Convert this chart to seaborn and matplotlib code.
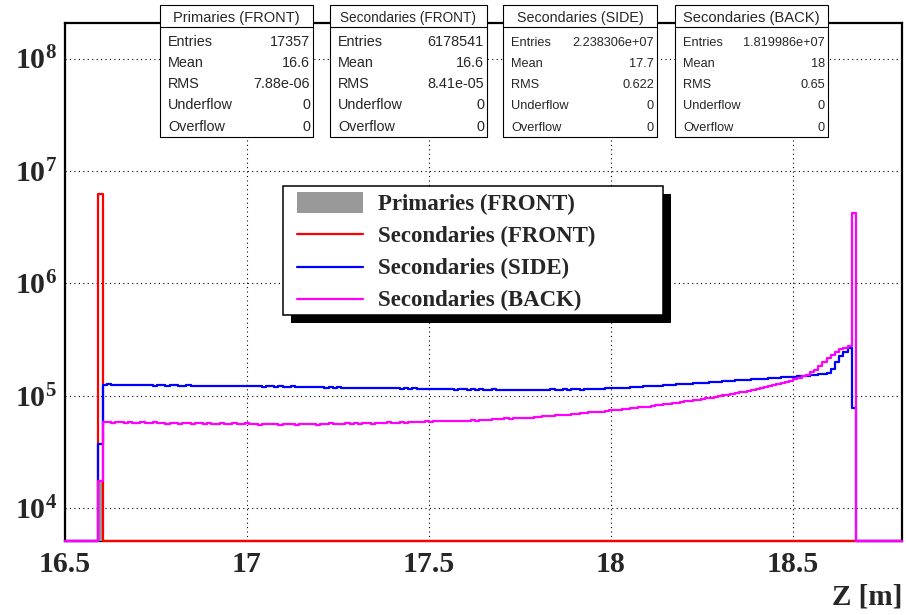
import numpy as np
import pandas as pd
import matplotlib
matplotlib.use('Agg')
from matplotlib import pyplot as plt
from matplotlib.patches import Rectangle
from matplotlib.lines import Line2D
from matplotlib.ticker import MultipleLocator, LogLocator, NullFormatter
from matplotlib.transforms import Affine2D
import seaborn as sns

# histogram binning along Z (metres)
Z_MIN = 16.5
Z_MAX = 18.8
N_BINS = 200

# bins holding the front face and the back face
FRONT_BIN = 8
BACK_BIN = 188

# single-bin contents
primaries_front = 17357
secondaries_front = 6178541
side_at_front, side_at_back = 37000, 78000
back_at_front, back_at_back = 17500, 4240000

# Secondaries (SIDE), bins 9..187, thousands of entries
side_plateau_k = [
    125, 126, 124, 125, 125, 124, 125, 124, 124, 125,
    124, 125, 123, 124, 124, 123, 124, 124, 123, 123,
    124, 123, 122, 123, 123, 122, 123, 122, 122, 123,
    122, 121, 122, 122, 121, 121, 122, 121, 120, 121,
    121, 120, 121, 120, 120, 121, 119, 120, 120, 119,
    119, 120, 119, 118, 119, 118, 119, 118, 117, 118,
    118, 117, 117, 118, 117, 116, 117, 116, 116, 117,
    116, 115, 116, 115, 116, 115, 114, 115, 115, 114,
    115, 114, 114, 115, 113, 114, 114, 113, 114, 113,
    114, 113, 113, 114, 113, 112, 113, 113, 112, 113,
    113, 112, 113, 113, 112, 113, 113, 114, 113, 113,
    114, 113, 114, 114, 113, 114, 115, 114, 115, 115,
    116, 116, 117, 117, 118, 118, 119, 119, 120, 121,
    121, 122, 123, 123, 124, 125, 125, 126, 127, 127,
    128, 129, 130, 130, 131, 132, 133, 133, 134, 135,
    136, 137, 137, 138, 139, 140, 141, 142, 142, 143,
    144, 145, 146, 147, 147, 148, 149, 150, 151, 152,
    153, 155, 156, 158, 174, 198, 224, 246, 265,
]

# Secondaries (BACK), bins 9..187, thousands of entries
back_plateau_k = [
    58, 58, 57, 58, 58, 57, 58, 57, 57, 58,
    57, 57, 58, 57, 57, 56, 57, 57, 56, 57,
    57, 56, 57, 57, 56, 57, 56, 56, 57, 56,
    56, 57, 56, 56, 57, 56, 56, 55, 56, 56,
    56, 56, 55, 56, 56, 56, 55, 56, 56, 56,
    56, 55, 56, 56, 57, 56, 56, 56, 57, 56,
    57, 56, 57, 57, 56, 57, 57, 57, 58, 57,
    57, 58, 57, 58, 58, 58, 58, 59, 58, 59,
    59, 59, 59, 60, 59, 60, 60, 60, 61, 60,
    61, 61, 61, 62, 62, 62, 63, 62, 63, 63,
    64, 64, 64, 65, 65, 66, 66, 66, 67, 67,
    68, 68, 69, 69, 70, 70, 71, 71, 72, 72,
    73, 74, 74, 75, 76, 76, 77, 78, 79, 79,
    80, 81, 82, 83, 84, 85, 86, 87, 88, 89,
    90, 91, 92, 93, 95, 96, 98, 99, 101, 102,
    104, 105, 107, 109, 111, 113, 115, 117, 120, 122,
    124, 127, 130, 133, 136, 140, 144, 149, 154, 161,
    170, 182, 198, 215, 232, 247, 259, 268, 276,
]

series_names = ['Primaries (FRONT)', 'Secondaries (FRONT)',
                'Secondaries (SIDE)', 'Secondaries (BACK)']
series_colors = ['#999999', '#ff0000', '#0000ff', '#ff00ff']

stat_names = ['Entries', 'Mean', 'RMS', 'Underflow', 'Overflow']
stat_values = [
    ['17357', '16.6', '7.88e-06', '0', '0'],
    ['6178541', '16.6', '8.41e-05', '0', '0'],
    ['2.238306e+07', '17.7', '0.622', '0', '0'],
    ['1.819986e+07', '18', '0.65', '0', '0'],
]

X_TICKS = [16.5, 17.0, 17.5, 18.0, 18.5]
X_TICK_LABELS = ['16.5', '17', '17.5', '18', '18.5']
Y_TICKS = [1e4, 1e5, 1e6, 1e7, 1e8]
Y_TICK_LABELS = [r'$\mathbf{10^{4}}$', r'$\mathbf{10^{5}}$', r'$\mathbf{10^{6}}$',
                 r'$\mathbf{10^{7}}$', r'$\mathbf{10^{8}}$']
Y_MIN, Y_MAX = 5.1e3, 2.07e8

W, H = 906, 615
SERIF = 'Liberation Serif'
SANS = 'Liberation Sans'


def build_counts():
    """ Put the bin contents of the four histograms into arrays """
    prim = np.zeros(N_BINS)
    prim[FRONT_BIN] = primaries_front

    front = np.zeros(N_BINS)
    front[FRONT_BIN] = secondaries_front

    side = np.zeros(N_BINS)
    side[FRONT_BIN] = side_at_front
    side[FRONT_BIN + 1:BACK_BIN] = np.array(side_plateau_k) * 1000
    side[BACK_BIN] = side_at_back

    back = np.zeros(N_BINS)
    back[FRONT_BIN] = back_at_front
    back[FRONT_BIN + 1:BACK_BIN] = np.array(back_plateau_k) * 1000
    back[BACK_BIN] = back_at_back
    return [prim, front, side, back]


def draw_histograms(ax, counts):
    edges = np.linspace(Z_MIN, Z_MAX, N_BINS + 1)
    centers = 0.5 * (edges[1:] + edges[:-1])

    # filled primaries
    prim_df = pd.DataFrame({'z': centers, 'n': counts[0]})
    sns.histplot(data=prim_df, x='z', weights='n', bins=N_BINS,
                 binrange=(Z_MIN, Z_MAX), ax=ax, color=series_colors[0],
                 alpha=1, linewidth=0, zorder=2.9)

    # empty bins sit on the bottom of the frame, as in ROOT
    for c, color in zip(counts[1:], series_colors[1:]):
        shown = np.where(c > 0, c, Y_MIN)
        y = np.append(shown, shown[-1])
        sns.lineplot(x=edges, y=y, ax=ax, color=color, lw=1.6,
                     drawstyle='steps-post', estimator=None, sort=False,
                     legend=False, clip_on=False, zorder=3)


def style_axes(ax):
    ax.set_xlim(Z_MIN, Z_MAX)
    ax.set_ylim(Y_MIN, Y_MAX)

    ax.set_xticks(X_TICKS)
    ax.set_xticklabels(X_TICK_LABELS, fontfamily=SERIF, fontweight='bold', fontsize=21.5)
    ax.xaxis.set_minor_locator(MultipleLocator(0.1))
    ax.set_yticks(Y_TICKS)
    ax.set_yticklabels(Y_TICK_LABELS, fontsize=21.5)
    ax.yaxis.set_minor_locator(LogLocator(base=10, subs=np.arange(2, 10)))
    ax.yaxis.set_minor_formatter(NullFormatter())

    ax.tick_params(which='both', direction='in', top=False, right=False, color='black')
    ax.tick_params(which='major', length=11, width=1)
    ax.tick_params(which='minor', length=5, width=1)
    ax.tick_params(axis='x', which='major', pad=7)
    ax.tick_params(axis='y', which='major', pad=6)

    ax.grid(True, which='major', color='black', linestyle=(0, (1, 3)), linewidth=0.8)
    ax.set_axisbelow(True)
    for side in ax.spines.values():
        side.set_color('black')
        side.set_linewidth(1.6)

    ax.set_ylabel('')
    ax.set_xlabel('Z [m]', loc='right', fontfamily=SERIF, fontweight='bold',
                  fontsize=21, labelpad=4)


def draw_stats(fig, tr):
    """ ROOT-like statistics boxes along the top """
    lefts = [160, 330, 503, 675]
    rights = [313, 487, 657, 828]
    title_sizes = [10.5, 9.8, 10.3, 10.6]
    body_sizes = [10.4, 10.4, 9.2, 9.2]
    for k in range(4):
        l, r = lefts[k], rights[k]
        fig.add_artist(Rectangle((l, 5), r - l, 132, transform=tr, fc='white',
                                 ec='black', lw=0.8, zorder=10))
        fig.add_artist(Line2D([l, r], [27, 27], transform=tr, color='black',
                              lw=0.8, zorder=11))
        fig.text((l + r) / 2, 21.7, series_names[k], transform=tr, ha='center',
                 va='baseline', fontfamily=SANS, fontsize=title_sizes[k], zorder=12)
        for j, name in enumerate(stat_names):
            yb = 45.5 + 21.3 * j
            fig.text(l + 8, yb, name, transform=tr, ha='left', va='baseline',
                     fontfamily=SANS, fontsize=body_sizes[k], zorder=12)
            fig.text(r - 3, yb, stat_values[k][j], transform=tr, ha='right',
                     va='baseline', fontfamily=SANS, fontsize=body_sizes[k], zorder=12)


def draw_legend(fig, tr):
    fig.add_artist(Rectangle((291, 194), 380, 129, transform=tr, fc='black',
                             ec='none', zorder=10))
    fig.add_artist(Rectangle((283, 186), 380, 129, transform=tr, fc='white',
                             ec='black', lw=1.1, zorder=11))
    fig.add_artist(Rectangle((297, 192), 66, 21, transform=tr,
                             fc=series_colors[0], ec='none', zorder=12))
    line_rows = [234.3, 267.3, 299.0]
    for y, color in zip(line_rows, series_colors[1:]):
        fig.add_artist(Line2D([297, 363], [y, y], transform=tr, color=color,
                              lw=1.6, zorder=12))
    baselines = [210, 242.3, 274.3, 306]
    for y, name in zip(baselines, series_names):
        fig.text(378, y, name, transform=tr, ha='left', va='baseline',
                 fontfamily=SERIF, fontweight='bold', fontsize=16.5, zorder=12)


def main():
    sns.set_style('white')
    plt.rcParams['mathtext.fontset'] = 'custom'
    plt.rcParams['mathtext.bf'] = 'Liberation Serif:bold'
    plt.rcParams['mathtext.rm'] = 'Liberation Serif:bold'
    plt.rcParams['font.family'] = ['Liberation Serif', 'DejaVu Sans']

    fig = plt.figure(figsize=(W / 100, H / 100), dpi=100)
    ax = fig.add_axes([65 / W, 1 - 541 / H, (902 - 65) / W, (541 - 23) / H])
    ax.set_yscale('log')

    counts = build_counts()
    draw_histograms(ax, counts)
    style_axes(ax)

    # pixel coordinates, origin at the top left corner of the picture
    tr = Affine2D().scale(1 / W, -1 / H).translate(0, 1) + fig.transFigure
    draw_stats(fig, tr)
    draw_legend(fig, tr)

    fig.savefig('out.png', dpi=100)


if __name__ == "__main__":
    main()
